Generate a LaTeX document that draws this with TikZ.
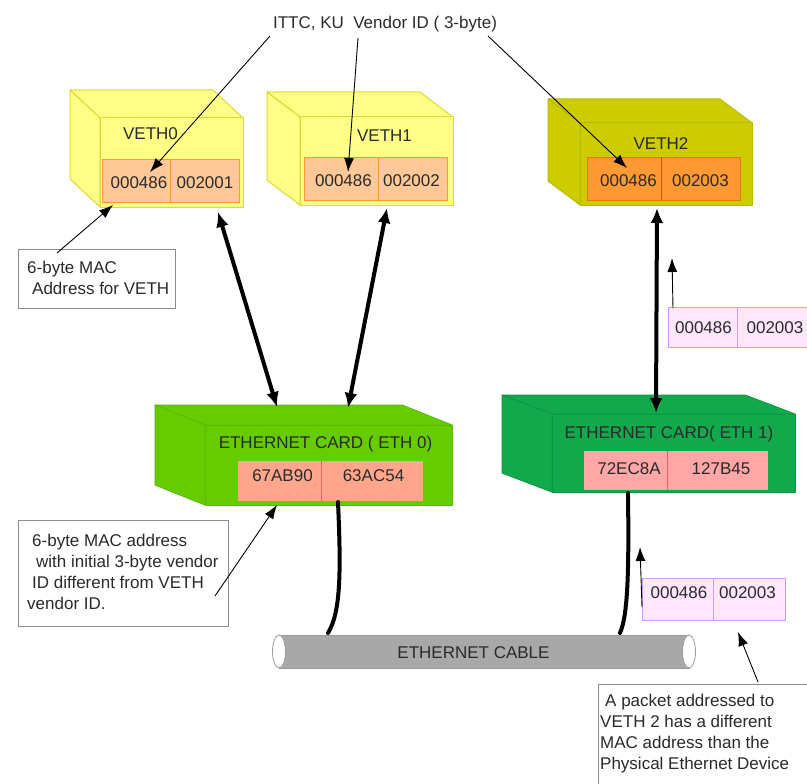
\documentclass[tikz,border=0pt]{standalone}
\usepackage{fontspec}
\setmainfont{Liberation Sans}
\usetikzlibrary{arrows.meta,shapes.geometric}
\definecolor{txt}{HTML}{2A2A2A}
\definecolor{yelF}{HTML}{FFFF88}
\definecolor{yelD}{HTML}{DADA30}
\definecolor{oliveF}{HTML}{CCCC00}
\definecolor{oliveD}{HTML}{BABA00}
\definecolor{macF}{HTML}{FFC896}
\definecolor{macD}{HTML}{FF9A33}
\definecolor{mac2F}{HTML}{FF9933}
\definecolor{mac2D}{HTML}{E87800}
\definecolor{mac2L}{HTML}{C05800}
\definecolor{grnF}{HTML}{66CC00}
\definecolor{grnD}{HTML}{5CBB00}
\definecolor{dgrnF}{HTML}{12A84C}
\definecolor{dgrnD}{HTML}{0E9A42}
\definecolor{salF}{HTML}{FFA68C}
\definecolor{pinkF}{HTML}{FFA6A6}
\definecolor{redL}{HTML}{E86060}
\definecolor{pktF}{HTML}{FFE6FF}
\definecolor{pktD}{HTML}{CC99FF}
\definecolor{cabF}{HTML}{A8A8A8}
\definecolor{cabD}{HTML}{9A9A9A}
\definecolor{boxgray}{HTML}{8C8C8C}
\begin{document}
\begin{tikzpicture}[x=1pt,y=-1pt,
  every node/.style={inner sep=0pt, text=txt, font=\fontsize{17}{21}\selectfont},
  lbl/.style={text height=12.2pt, text depth=0pt},
  face/.style={line width=1pt, line join=round},
  thinarrow/.style={draw=black, line width=0.9pt, -{Latex[length=14pt,width=10pt]}},
  thicklink/.style={line width=4pt, {Latex[length=15pt,width=13pt]}-{Latex[length=15pt,width=13pt]}},
  cablewire/.style={line width=4pt, line cap=round},
  callout/.style={draw=boxgray, line width=0.9pt, fill=white}]
\useasboundingbox (0,0) rectangle (807,784);
\clip (0,0) rectangle (807,784);

% ---------------- VETH0 ----------------
\filldraw[face, fill=yelF, draw=yelD] (100,118) -- (70,90) -- (213,90) -- (243,118) -- cycle;
\filldraw[face, fill=yelF, draw=yelD] (100,118) -- (70,90) -- (70,179) -- (100,207) -- cycle;
\node[face, fill=yelF, draw=yelD, minimum width=143pt, minimum height=89pt] (veth0) at (171.5,162.5) {};
\node[lbl] (veth0lbl) at (150.5,133) {VETH0};
\node[fill=macF, draw=macD, minimum width=68pt, minimum height=43pt] (v0a) at (136,180.5) {};
\node[fill=macF, draw=macD, minimum width=69pt, minimum height=43pt] (v0b) at (204.5,180.5) {};
\node[lbl] (v0at) at (139,182) {000486};
\node[lbl] (v0bt) at (205,182) {002001};

% ---------------- VETH1 ----------------
\filldraw[face, fill=yelF, draw=yelD] (300,117) -- (267,92) -- (420,92) -- (453,117) -- cycle;
\filldraw[face, fill=yelF, draw=yelD] (300,117) -- (267,92) -- (267,180) -- (300,205) -- cycle;
\node[face, fill=yelF, draw=yelD, minimum width=153pt, minimum height=88pt] (veth1) at (376.5,161) {};
\node[lbl] (veth1lbl) at (384.5,135) {VETH1};
\node[fill=macF, draw=macD, minimum width=74pt, minimum height=43pt] (v1a) at (341,178.5) {};
\node[fill=macF, draw=macD, minimum width=69pt, minimum height=43pt] (v1b) at (412.5,178.5) {};
\node[lbl] (v1at) at (343.5,180) {000486};
\node[lbl] (v1bt) at (411.5,180) {002002};

% ---------------- VETH2 ----------------
\filldraw[face, fill=oliveF, draw=oliveD] (580,123) -- (548,99) -- (720,99) -- (752,123) -- cycle;
\filldraw[face, fill=oliveF, draw=oliveD] (580,123) -- (548,99) -- (548,181) -- (580,205) -- cycle;
\node[face, fill=oliveF, draw=oliveD, minimum width=172pt, minimum height=82pt] (veth2) at (666,164) {};
\node[lbl] (veth2lbl) at (661,143) {VETH2};
\node[fill=mac2F, draw=mac2D, minimum width=74pt, minimum height=43pt] (v2a) at (624,178.5) {};
\node[fill=mac2F, draw=mac2D, minimum width=79pt, minimum height=43pt] (v2b) at (700.5,178.5) {};
\draw[mac2L, line width=0.8pt] (v2a.north east) -- (v2a.south east);
\node[lbl] (v2at) at (628.5,180) {000486};
\node[lbl] (v2bt) at (700.5,180) {002003};

% ---------------- ETH0 ----------------
\filldraw[face, fill=grnF, draw=grnD] (205,425) -- (155,405) -- (402,405) -- (452,425) -- cycle;
\filldraw[face, fill=grnF, draw=grnD] (205,425) -- (155,405) -- (155,485) -- (205,505) -- cycle;
\node[face, fill=grnF, draw=grnD, minimum width=247pt, minimum height=80pt] (eth0) at (328.5,465) {};
\node[lbl] (eth0lbl) at (325.5,442) {ETHERNET CARD ( ETH 0)};
\node[fill=salF, minimum width=83pt, minimum height=40pt] (e0a) at (279.5,481) {};
\node[fill=salF, minimum width=102pt, minimum height=40pt] (e0b) at (372,481) {};
\draw[redL, line width=0.6pt] (e0a.north east) -- (e0a.south east);
\node[lbl] (e0at) at (282.5,475) {67AB90};
\node[lbl] (e0bt) at (373.5,475) {63AC54};

% ---------------- ETH1 ----------------
\filldraw[face, fill=dgrnF, draw=dgrnD] (552,414) -- (502,395) -- (745,395) -- (795,414) -- cycle;
\filldraw[face, fill=dgrnF, draw=dgrnD] (552,414) -- (502,395) -- (502,473) -- (552,492) -- cycle;
\node[face, fill=dgrnF, draw=dgrnD, minimum width=243pt, minimum height=78pt] (eth1) at (673.5,453) {};
\node[lbl] (eth1lbl) at (669,432) {ETHERNET CARD( ETH 1)};
\node[fill=pinkF, minimum width=83pt, minimum height=39pt] (e1a) at (625.5,470.5) {};
\node[fill=pinkF, minimum width=101pt, minimum height=39pt] (e1b) at (717.5,470.5) {};
\draw[redL, line width=0.6pt] (e1a.north east) -- (e1a.south east);
\node[lbl] (e1at) at (629,468) {72EC8A};
\node[lbl] (e1bt) at (721,468) {127B45};

% ---------------- packets ----------------
\node[fill=pktF, draw=pktD, line width=0.9pt, minimum width=69pt, minimum height=40pt] (p1a) at (702.5,327) {};
\node[fill=pktF, draw=pktD, line width=0.9pt, minimum width=70pt, minimum height=40pt] (p1b) at (772,327) {};
\node[lbl] (p1at) at (703.5,327) {000486};
\node[lbl] (p1bt) at (775,327) {002003};

\node[fill=pktF, draw=pktD, line width=0.9pt, minimum width=71pt, minimum height=42pt] (p2a) at (677.5,599) {};
\node[fill=pktF, draw=pktD, line width=0.9pt, minimum width=72pt, minimum height=42pt] (p2b) at (749,599) {};
\node[lbl] (p2at) at (679,592) {000486};
\node[lbl] (p2bt) at (747.5,592) {002003};

% ---------------- cable ----------------
\filldraw[fill=cabF, draw=cabD, line width=0.8pt] (279,635) -- (689,635) -- (689,668) -- (279,668) -- cycle;
\node[shape=ellipse, draw=cabD, fill=white, line width=0.8pt, minimum width=13pt, minimum height=33pt] (cabL) at (279,651.5) {};
\node[shape=ellipse, draw=cabD, fill=white, line width=0.8pt, minimum width=13pt, minimum height=33pt] (cabR) at (689,651.5) {};
\node[lbl] (cablelbl) at (473.5,652) {ETHERNET CABLE};

% ---------------- top label ----------------
\node[lbl] (vendor) at (385,22) {ITTC, KU\ \ Vendor ID ( 3-byte)};
\coordinate (vA) at (270,36);
\coordinate (vB) at (358,38);
\coordinate (vC) at (488,36);
\coordinate (tA) at (150,172);
\coordinate (tB) at (348,172);
\coordinate (tC) at (627,168);
\draw[thinarrow] (vA) -- (tA);
\draw[thinarrow] (vB) -- (tB);
\draw[thinarrow] (vC) -- (tC);

% ---------------- callouts ----------------
\node[callout, minimum width=157pt, minimum height=59pt] (c1) at (96.5,278.5) {};
\node[align=left, anchor=west] (c1t) at (27,278) {6-byte MAC\\\hspace*{5pt}Address for VETH};
\coordinate (c1s) at (57,253);
\coordinate (c1e) at (113,205);
\draw[thinarrow] (c1s) -- (c1e);

\node[callout, minimum width=210pt, minimum height=106pt] (c2) at (123,573) {};
\node[align=left, anchor=west] (c2t) at (27,572) {\hspace*{5pt}6-byte MAC address\\\hspace*{9pt}with initial 3-byte vendor\\\hspace*{5pt}ID different from VETH\\vendor ID.};
\coordinate (c2s) at (215,596);
\coordinate (c2e) at (277,505);
\draw[thinarrow] (c2s) -- (c2e);

\node[callout, minimum width=210pt, minimum height=110pt] (c3) at (703,739) {};
\node[align=left, anchor=west] (c3t) at (600,734) {\hspace*{5pt}A packet addressed to\\VETH 2 has a different\\MAC address than the\\Physical Ethernet Device};
\coordinate (c3s) at (758,682);
\coordinate (c3e) at (738,632);
\draw[thinarrow] (c3s) -- (c3e);

% small packet arrows
\coordinate (p1s) at (673,308);
\coordinate (p1e) at (672,258);
\draw[thinarrow] (p1s) -- (p1e);
\coordinate (p2s) at (642,607);
\coordinate (p2e) at (640,547);
\draw[thinarrow] (p2s) -- (p2e);

% ---------------- thick links ----------------
\coordinate (l1t) at (218,212);
\coordinate (l1b) at (277,407);
\coordinate (l2t) at (387,208);
\coordinate (l2b) at (348,408);
\coordinate (l3t) at (657,208);
\coordinate (l3b) at (656,413);
\draw[thicklink] (l1t) -- (l1b);
\draw[thicklink] (l2t) -- (l2b);
\draw[thicklink] (l3t) -- (l3b);

% ---------------- wires to cable ----------------
\coordinate (w1s) at (338,502);
\coordinate (w1e) at (328,633);
\coordinate (w2s) at (628,493);
\coordinate (w2e) at (620,633);
\draw[cablewire] (w1s) .. controls (341,570) and (341,612) .. (w1e);
\draw[cablewire] (w2s) .. controls (629,570) and (628,615) .. (w2e);
\end{tikzpicture}
\end{document}
